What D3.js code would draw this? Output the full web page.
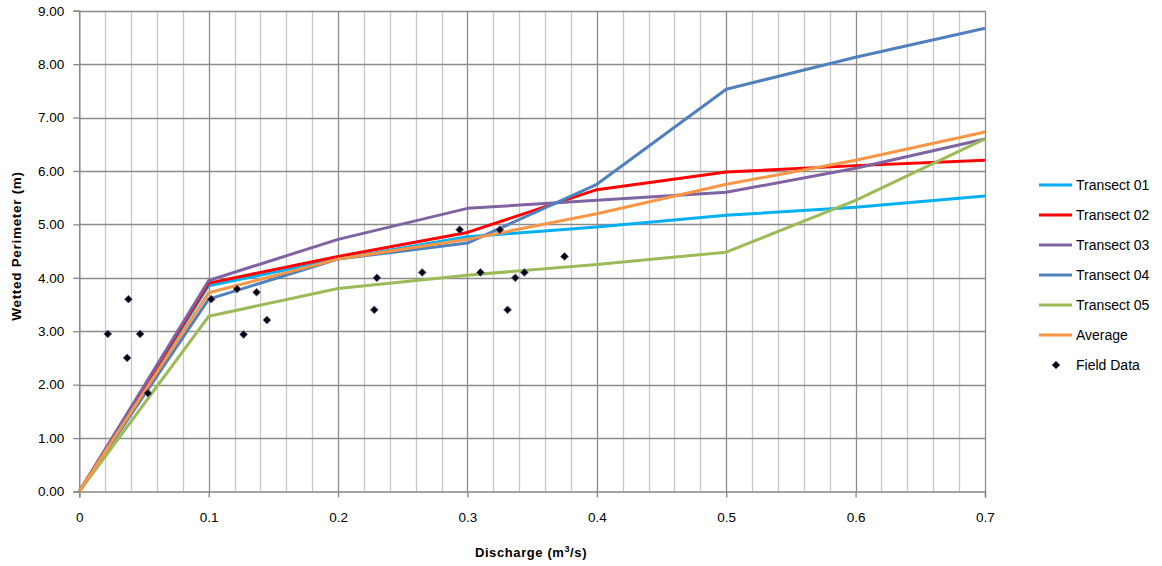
<!DOCTYPE html>
<html><head><meta charset="utf-8">
<script src="https://cdn.jsdelivr.net/npm/d3@7"></script>
<style>body{margin:0;background:#fff;} text{font-family:"Liberation Sans",Arial,sans-serif;}</style>
</head><body><svg id="c" width="1162" height="566"></svg>
<script>
const discharge = [0, 0.1, 0.2, 0.3, 0.4, 0.5, 0.6, 0.7];
const transect01 = [0, 3.85, 4.35, 4.77, 4.95, 5.17, 5.32, 5.53];
const transect02 = [0, 3.90, 4.40, 4.85, 5.65, 5.98, 6.10, 6.20];
const transect03 = [0, 3.95, 4.72, 5.30, 5.45, 5.60, 6.05, 6.60];
const transect04 = [0, 3.60, 4.35, 4.65, 5.75, 7.53, 8.13, 8.67];
const transect05 = [0, 3.28, 3.80, 4.05, 4.25, 4.48, 5.45, 6.60];
const average    = [0, 3.72, 4.35, 4.72, 5.20, 5.75, 6.20, 6.73];
const fieldQ = [0.038, 0.022, 0.047, 0.037, 0.053, 0.102, 0.122, 0.137, 0.127, 0.145, 0.230, 0.228, 0.265, 0.294, 0.310, 0.325, 0.331, 0.337, 0.344, 0.375];
const fieldP = [3.60, 2.95, 2.95, 2.50, 1.84, 3.60, 3.79, 3.73, 2.94, 3.21, 4.00, 3.40, 4.10, 4.90, 4.10, 4.90, 3.40, 4.00, 4.10, 4.40];
const seriesNames = ["Transect 01","Transect 02","Transect 03","Transect 04","Transect 05","Average"];
const seriesValues = [transect01, transect02, transect03, transect04, transect05, average];
const seriesColors = ["#00B0F0","#FF0000","#8064A2","#4F81BD","#9BBB59","#F79646"];
const xTicks = [0,0.1,0.2,0.3,0.4,0.5,0.6,0.7];
const yTicks = [0,1,2,3,4,5,6,7,8,9];

const svg = d3.select("#c");
const L = 79.3, R = 985, T = 10.7, B = 491.5;
const x = d3.scaleLinear().domain([0,0.7]).range([L,R]);
const y = d3.scaleLinear().domain([0,9]).range([B,T]);

// minor vertical grid
const minor = d3.range(0, 0.7001, 0.02).filter(v => Math.abs(v*10 - Math.round(v*10)) > 1e-6);
svg.append("g").selectAll("line").data(minor).join("line")
  .attr("x1", d=>Math.round(x(d))+0.5).attr("x2", d=>Math.round(x(d))+0.5)
  .attr("y1", T).attr("y2", B).attr("stroke","#c8c8c8").attr("stroke-width",1.3);
// major vertical grid
svg.append("g").selectAll("line").data(xTicks.slice(1)).join("line")
  .attr("x1", d=>Math.round(x(d))+0.5).attr("x2", d=>Math.round(x(d))+0.5)
  .attr("y1", T).attr("y2", B).attr("stroke","#8c8c8c").attr("stroke-width",1.3);
// horizontal grid
svg.append("g").selectAll("line").data(yTicks.slice(1)).join("line")
  .attr("x1", L).attr("x2", R)
  .attr("y1", d=>Math.round(y(d))+0.5).attr("y2", d=>Math.round(y(d))+0.5)
  .attr("stroke","#8c8c8c").attr("stroke-width",1.3);

// axes
const xAxis = d3.axisBottom(x).tickValues(xTicks).tickFormat(d3.format("")).tickSize(6).tickPadding(15);
const gx = svg.append("g").attr("transform",`translate(0,${B})`).call(xAxis);
gx.select(".domain").attr("stroke","#868686").attr("stroke-width",1.5);
gx.selectAll(".tick line").attr("stroke","#868686").attr("stroke-width",1.3);
gx.selectAll("text").attr("font-size",13.5).attr("fill","#000");
gx.selectAll(".tick text").text(d => d===0 ? "0" : d3.format(".1f")(d));

const yAxis = d3.axisLeft(y).tickValues(yTicks).tickFormat(d3.format(".2f")).tickSize(6).tickPadding(9);
const gy = svg.append("g").attr("transform",`translate(${L},0)`).call(yAxis);
gy.select(".domain").attr("stroke","#868686").attr("stroke-width",1.5);
gy.selectAll(".tick line").attr("stroke","#868686").attr("stroke-width",1.3);
gy.selectAll("text").attr("font-size",13.5).attr("fill","#000");

// series lines
const line = d3.line().x((d,i)=>x(discharge[i])).y(d=>y(d));
seriesValues.forEach((vals,k)=>{
  svg.append("path").datum(vals).attr("d", line).attr("fill","none")
    .attr("stroke", seriesColors[k]).attr("stroke-width",3).attr("stroke-linejoin","round");
});

// field data diamonds (square rotated 45deg)
const diamond = d3.symbol().type(d3.symbolSquare).size(30);
svg.append("g").selectAll("path").data(fieldQ).join("path")
  .attr("d", diamond)
  .attr("transform",(d,i)=>`translate(${x(d)},${y(fieldP[i])}) rotate(45)`)
  .attr("fill","#000").attr("stroke","#6a58a0").attr("stroke-width",0.9);

// axis titles
svg.append("text").attr("x", 531).attr("y", 557).attr("text-anchor","middle")
  .attr("font-size",13).attr("font-weight","bold").attr("letter-spacing",0.6)
  .html('Discharge (m<tspan dy="-5" font-size="9">3</tspan><tspan dy="5">/s)</tspan>');
svg.append("text").attr("transform","translate(21,246) rotate(-90)").attr("text-anchor","middle")
  .attr("font-size",13.5).attr("font-weight","bold").attr("letter-spacing",0.7).text("Wetted Perimeter (m)");

// legend
const lg = svg.append("g");
const rowY = [185,215,245,275,305,335,365];
seriesNames.forEach((n,i)=>{
  lg.append("line").attr("x1",1039).attr("x2",1072).attr("y1",rowY[i]).attr("y2",rowY[i])
    .attr("stroke",seriesColors[i]).attr("stroke-width",3);
  lg.append("text").attr("x",1076).attr("y",rowY[i]+5).attr("font-size",14).text(n);
});
lg.append("path").attr("d",diamond).attr("transform",`translate(1056,${rowY[6]}) rotate(45)`)
  .attr("fill","#000").attr("stroke","#6a58a0").attr("stroke-width",0.9);
lg.append("text").attr("x",1076).attr("y",rowY[6]+5).attr("font-size",14).text("Field Data");
</script></body></html>
